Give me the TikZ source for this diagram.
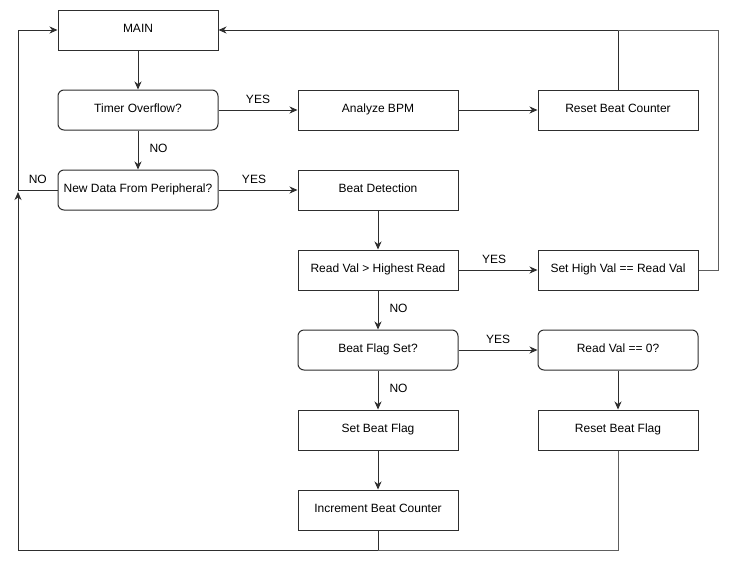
\documentclass[tikz,border=0pt]{standalone}
\usepackage{fontspec}
\setmainfont{Liberation Sans}
\usetikzlibrary{arrows.meta}
\definecolor{stroke}{HTML}{2E2E2E}
\definecolor{joinline}{HTML}{5E5E5E}
\begin{document}
\begin{tikzpicture}[x=1pt,y=-1pt,
  every node/.style={font=\fontsize{12}{14}\selectfont},
  procbox/.style={draw=stroke,line width=1pt,rectangle,minimum width=160pt,minimum height=40pt,inner sep=0pt,text height=9pt,text depth=5pt},
  askbox/.style={procbox,rounded corners=6pt},
  arr/.style={draw=stroke,line width=1pt,-{Stealth[length=8pt,width=7pt,inset=2.5pt]}},
  link/.style={draw=joinline,line width=1pt},
  lbl/.style={inner sep=0pt,font=\fontsize{12}{14}\selectfont}]
\useasboundingbox (0,0) rectangle (738,571);
\fill[white] (0,0) rectangle (738,571);

% boxes
\node[procbox] (main) at (138,30) {MAIN};
\node[askbox] (timer) at (138,110) {Timer Overflow?};
\node[askbox] (newdata) at (138,190) {New Data From Peripheral?};
\node[procbox] (bpm) at (378,110) {Analyze BPM};
\node[procbox] (rbc) at (618,110) {Reset Beat Counter};
\node[procbox] (detect) at (378,190) {Beat Detection};
\node[procbox] (readval) at (378,270) {Read Val > Highest Read};
\node[procbox] (sethigh) at (618,270) {Set High Val == Read Val};
\node[askbox] (flagset) at (378,350) {Beat Flag Set?};
\node[askbox] (zero) at (618,350) {Read Val == 0?};
\node[procbox] (setflag) at (378,430) {Set Beat Flag};
\node[procbox] (resetflag) at (618,430) {Reset Beat Flag};
\node[procbox] (inc) at (378,510) {Increment Beat Counter};

% junction points of the return loops
\coordinate (jleft) at (18,190);
\coordinate (jtop) at (618,30);
\coordinate (jright) at (718,30);
\coordinate (jbottom) at (378,550);

% main flow
\draw[arr] (main) -- (timer);
\draw[arr] (timer) -- node[lbl,pos=0.45,right=11pt]{NO} (newdata);
\draw[arr] (timer) -- node[lbl,above=6pt]{YES} (bpm);
\draw[arr] (bpm) -- (rbc);
\draw[arr] (newdata) -- node[lbl,above=6pt,xshift=-4pt]{YES} (detect);
\draw[arr] (detect) -- (readval);
\draw[arr] (readval) -- node[lbl,above=6pt,xshift=-4pt]{YES} (sethigh);
\draw[arr] (readval) -- node[lbl,pos=0.45,right=11pt]{NO} (flagset);
\draw[arr] (flagset) -- node[lbl,above=6pt]{YES} (zero);
\draw[arr] (flagset) -- node[lbl,pos=0.45,right=11pt]{NO} (setflag);
\draw[arr] (zero) -- (resetflag);
\draw[arr] (setflag) -- (inc);

% return paths to MAIN
\draw[arr] (rbc.north) |- (main.east);
\draw[link] (sethigh.east) -| (jright) -- (jtop);
\draw[arr] (newdata.west) -- node[lbl,above=6pt]{NO} (jleft) |- (main.west);
\draw[arr,shorten >=-4pt] (inc.south) |- (18,550) -- (18,196);
\draw[link] (resetflag.south) |- (jbottom);
\end{tikzpicture}
\end{document}
